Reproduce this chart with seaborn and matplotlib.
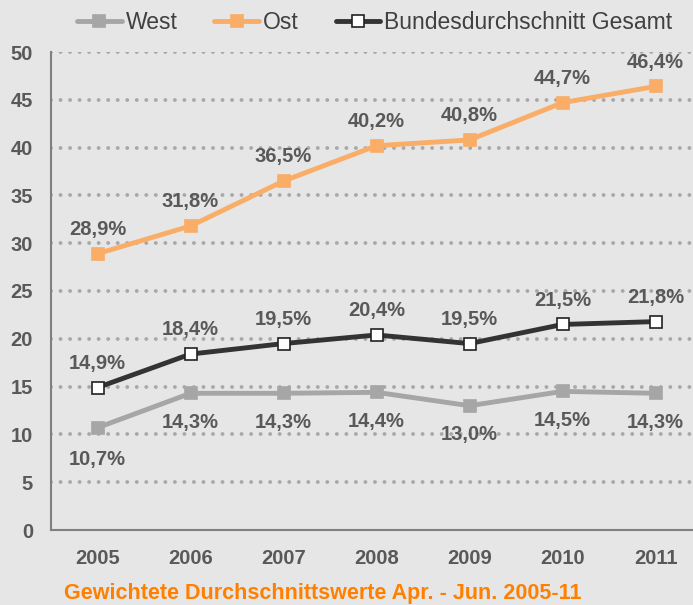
import matplotlib
matplotlib.use("Agg")
import matplotlib.pyplot as plt
import seaborn as sns
import pandas as pd
import numpy as np

years = ["2005", "2006", "2007", "2008", "2009", "2010", "2011"]
west = [10.7, 14.3, 14.3, 14.4, 13.0, 14.5, 14.3]
ost = [28.9, 31.8, 36.5, 40.2, 40.8, 44.7, 46.4]
gesamt = [14.9, 18.4, 19.5, 20.4, 19.5, 21.5, 21.8]
yticks = [0, 5, 10, 15, 20, 25, 30, 35, 40, 45, 50]

sns.set_style("white")
plt.rcParams['font.family'] = ['Liberation Sans', 'DejaVu Sans']

bg = "#e6e6e6"
fig = plt.figure(figsize=(6.93, 6.05), dpi=100, facecolor=bg)
ax = fig.add_axes([51/693, 75/605, 651/693, 478/605])
ax.set_facecolor(bg)

df = pd.DataFrame({"Jahr": years * 3,
                   "Wert": west + ost + gesamt,
                   "Serie": ["West"] * 7 + ["Ost"] * 7 + ["Bundesdurchschnitt Gesamt"] * 7})
x = np.arange(len(years))
df["x"] = np.tile(x, 3)

styles = {
    "West": dict(color="#a6a6a6", mfc="#a6a6a6", mec="#a6a6a6"),
    "Ost": dict(color="#f9ad67", mfc="#f9ad67", mec="#f9ad67"),
    "Bundesdurchschnitt Gesamt": dict(color="#333333", mfc="white", mec="#222222"),
}
for name in ["West", "Ost", "Bundesdurchschnitt Gesamt"]:
    sub = df[df["Serie"] == name]
    st = styles[name]
    sns.lineplot(data=sub, x="x", y="Wert", ax=ax, color=st["color"], lw=3.5,
                 marker="s", markersize=9, markerfacecolor=st["mfc"],
                 markeredgecolor=st["mec"], markeredgewidth=1.2, label=name,
                 zorder=3)

lab_color = "#595959"
lab_fs = 14.5
def fmt(v):
    return f"{v:.1f}%".replace(".", ",")
for i in x:
    ax.annotate(fmt(ost[i]), (i, ost[i]), xytext=(0, 17.5), textcoords="offset points",
                ha="center", va="center", fontsize=lab_fs, fontweight="bold", color=lab_color)
    ax.annotate(fmt(gesamt[i]), (i, gesamt[i]), xytext=(0, 17.5), textcoords="offset points",
                ha="center", va="center", fontsize=lab_fs, fontweight="bold", color=lab_color)
    off = -23 if i == 0 else -21
    ax.annotate(fmt(west[i]), (i, west[i]), xytext=(0, off), textcoords="offset points",
                ha="center", va="center", fontsize=lab_fs, fontweight="bold", color=lab_color)

ax.set_xlim(-0.5, 6.5)
ax.set_ylim(0, 50)
ax.set_yticks(yticks)
ax.set_yticklabels([str(t) for t in yticks], fontsize=14.5, fontweight="bold", color=lab_color)
ax.set_xticks(x)
ax.set_xticklabels(years, fontsize=14.5, fontweight="bold", color=lab_color)
ax.tick_params(axis="x", length=0, pad=14)
ax.set_xticks(np.arange(-0.5, 7, 1), minor=True)
ax.tick_params(axis="x", which="minor", length=5, color="#808080", width=1.2)
ax.tick_params(axis="y", length=6, color="#808080", width=1.2, pad=7)
ax.set_xlabel("")
ax.set_ylabel("")

for t in yticks[1:]:
    ax.axhline(t, color="#a8a8a8", lw=2.8, ls=(0, (0.01, 2.44)), dash_capstyle="round", zorder=1)

for s in ["top", "right"]:
    ax.spines[s].set_visible(False)
for s in ["left", "bottom"]:
    ax.spines[s].set_color("#808080")
    ax.spines[s].set_linewidth(1.5)

leg = ax.legend(loc="center left", bbox_to_anchor=(26/651, 1.062), ncol=3, frameon=False,
                fontsize=16.5, handlelength=1.95, columnspacing=1.6, handletextpad=0.18,
                borderpad=0, borderaxespad=0, markerscale=1.0)
for t in leg.get_texts():
    t.set_color("#404040")

fig.text(64/693, 1 - 594/605, "Gewichtete Durchschnittswerte Apr. - Jun. 2005-11",
         color="#ff8000", fontsize=15.5, fontweight="bold", va="center", ha="left")

fig.savefig("out.png", dpi=100, facecolor=bg)
